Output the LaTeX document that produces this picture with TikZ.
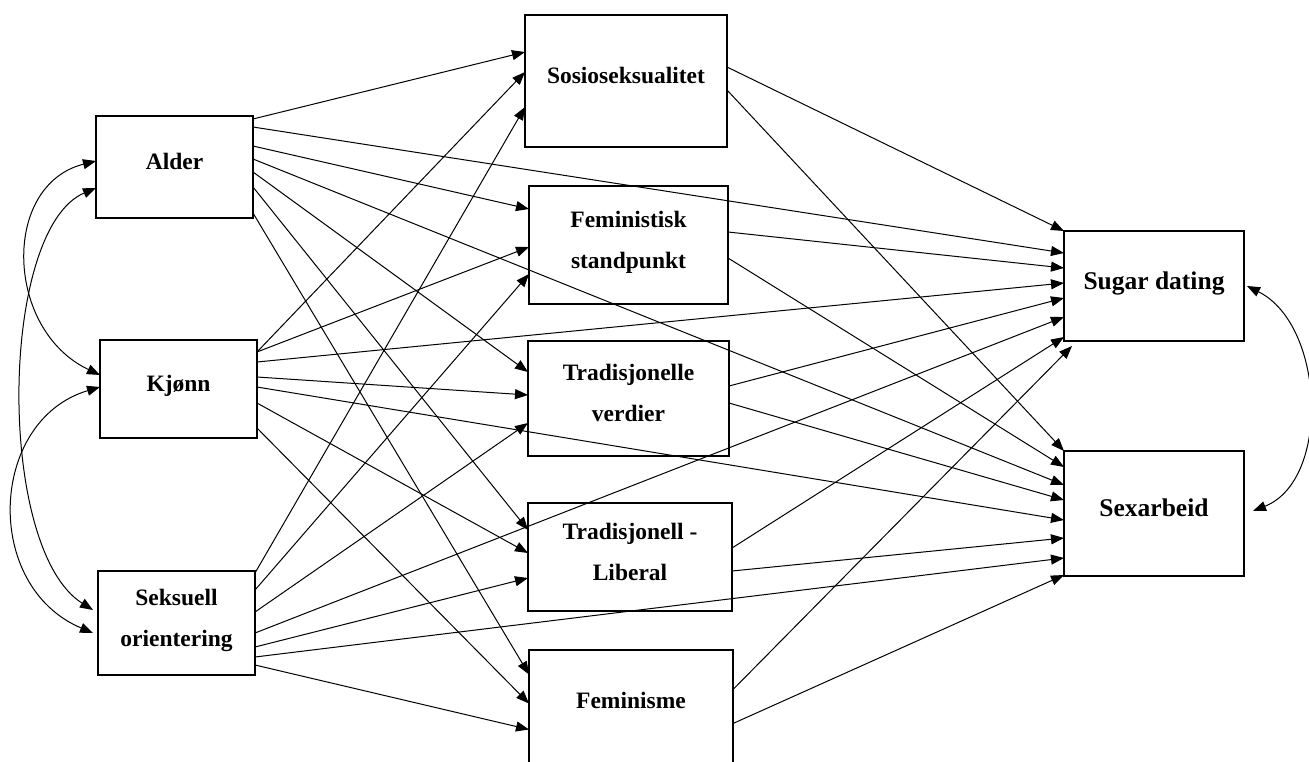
\documentclass[tikz,border=0pt]{standalone}
\usepackage{fontspec}
\setmainfont{Liberation Serif}
\usetikzlibrary{arrows.meta,calc}
\newcommand\lstrut{\rule[-11pt]{0pt}{27pt}}
\begin{document}
\begin{tikzpicture}[x=1pt,y=-1pt,
  bx/.style={draw, line width=2pt, inner sep=0pt, outer sep=0pt, align=center,
    font=\bfseries\fontsize{23.5}{41}\selectfont},
  outbx/.style={bx, font=\bfseries\fontsize{25.5}{41}\selectfont},
  conn/.style={line width=1pt, -{Triangle[length=13pt,width=10pt]}},
  dbl/.style={line width=1pt, {Triangle[length=13pt,width=10pt]}-{Triangle[length=13pt,width=10pt]}}]
\clip (0,0) rectangle (1309,761);
\fill[white] (0,0) rectangle (1309,761);
% exogenous
\node[bx, minimum width=157pt, minimum height=102pt] (alder) at (174.5,167) {\lstrut Alder};
\node[bx, minimum width=157pt, minimum height=98pt] (kjonn) at (178.5,389) {\lstrut Kjønn};
\node[bx, minimum width=157pt, minimum height=104pt] (seks) at (176.5,623) {\lstrut Seksuell\\\lstrut orientering};
% mediators
\node[bx, minimum width=202pt, minimum height=132pt] (sos) at (626,81) {\lstrut Sosioseksualitet};
\node[bx, minimum width=199pt, minimum height=118pt] (fst) at (628.5,245) {\lstrut Feministisk\\\lstrut standpunkt};
\node[bx, minimum width=201pt, minimum height=115pt] (trv) at (628.5,398.5) {\lstrut Tradisjonelle\\\lstrut verdier};
\node[bx, minimum width=204pt, minimum height=108pt] (trl) at (630,557) {\lstrut Tradisjonell -\\\lstrut Liberal};
\node[bx, minimum width=204pt, minimum height=113pt] (fem) at (631,706) {\lstrut Feminisme};
% outcomes
\node[outbx, minimum width=180pt, minimum height=110pt] (sug) at (1154,286) {\lstrut Sugar dating};
\node[outbx, minimum width=180pt, minimum height=125pt] (sex) at (1154,513.5) {\lstrut Sexarbeid};
% Alder
\draw[conn] ($(alder.north east)+(0,3)$) -- ($(sos.north west)+(0,37)$);
\draw[conn] ($(alder.north east)+(0,11)$) -- ($(sug.north west)+(0,22)$);
\draw[conn] ($(alder.north east)+(0,30)$) -- ($(fst.north west)+(0,23)$);
\draw[conn] ($(alder.north east)+(0,43)$) -- ($(sex.north west)+(0,34)$);
\draw[conn] ($(alder.north east)+(0,56)$) -- ($(trv.north west)+(0,31)$);
\draw[conn] ($(alder.north east)+(0,71)$) -- ($(trl.north west)+(0,27)$);
\draw[conn] ($(alder.north east)+(0,97)$) -- ($(fem.north west)+(0,25)$);
% Kjonn
\draw[conn] ($(kjonn.north east)+(0,12)$) -- ($(sos.north west)+(0,57)$);
\draw[conn] ($(kjonn.north east)+(0,12)$) -- ($(fst.north west)+(0,61)$);
\draw[conn] ($(kjonn.north east)+(0,22)$) -- ($(sug.north west)+(0,52)$);
\draw[conn] ($(kjonn.north east)+(0,37)$) -- ($(trv.north west)+(0,54)$);
\draw[conn] ($(kjonn.north east)+(0,47)$) -- ($(sex.north west)+(0,69)$);
\draw[conn] ($(kjonn.north east)+(0,63)$) -- ($(trl.north west)+(0,50)$);
\draw[conn] ($(kjonn.north east)+(0,88)$) -- ($(fem.north west)+(0,54)$);
% Seksuell orientering
\draw[conn] ($(seks.north east)+(0,2)$) -- ($(sos.north west)+(0,92)$);
\draw[conn] ($(seks.north east)+(0,19)$) -- ($(fst.north west)+(0,88)$);
\draw[conn] ($(seks.north east)+(0,41)$) -- ($(trv.north west)+(0,82)$);
\draw[conn] ($(seks.north east)+(0,62)$) -- ($(sug.north west)+(0,86)$);
\draw[conn] ($(seks.north east)+(0,76)$) -- ($(trl.north west)+(0,75)$);
\draw[conn] ($(seks.north east)+(0,86)$) -- ($(sex.north west)+(0,107)$);
\draw[conn] ($(seks.north east)+(0,94)$) -- ($(fem.north west)+(0,80)$);
% mediators to outcomes
\draw[conn] ($(sos.north east)+(0,52)$) -- ($(sug.north west)+(0,0)$);
\draw[conn] ($(sos.north east)+(0,75)$) -- ($(sex.north west)+(0,0)$);
\draw[conn] ($(fst.north east)+(0,46)$) -- ($(sug.north west)+(0,37)$);
\draw[conn] ($(fst.north east)+(0,72)$) -- ($(sex.north west)+(0,16)$);
\draw[conn] ($(trv.north east)+(0,45)$) -- ($(sug.north west)+(0,67)$);
\draw[conn] ($(trv.north east)+(0,62)$) -- ($(sex.north west)+(0,49)$);
\draw[conn] ($(trl.north east)+(0,45)$) -- ($(sug.north west)+(0,106)$);
\draw[conn] ($(trl.north east)+(0,68)$) -- ($(sex.north west)+(0,87)$);
\draw[conn] ($(fem.north east)+(0,40)$) -- ($(sug.south west)+(8,5)$);
\draw[conn] ($(fem.north east)+(0,74)$) -- ($(sex.north west)+(0,124)$);
% covariances
\coordinate (a1) at ($(alder.north west)+(0,45)$);
\coordinate (a2) at ($(alder.north west)+(0,72)$);
\coordinate (k1) at ($(kjonn.north west)+(0,35)$);
\coordinate (k2) at ($(kjonn.north west)+(0,47)$);
\coordinate (s1) at ($(seks.north west)+(-5,39)$);
\coordinate (s2) at ($(seks.north west)+(-5,62)$);
\coordinate (g1) at ($(sug.north east)+(3,55)$);
\coordinate (x1) at ($(sex.north east)+(9,60)$);
\draw[dbl] (a1) .. controls +(-95,24) and +(-95,-45) .. (k1);
\draw[dbl] (a2) .. controls +(-97,41) and +(-97,-61) .. (s1);
\draw[dbl] (k2) .. controls +(-111,33) and +(-111,-47) .. (s2);
\draw[dbl] (g1) .. controls +(78,39) and +(78,-31) .. (x1);
\end{tikzpicture}
\end{document}
